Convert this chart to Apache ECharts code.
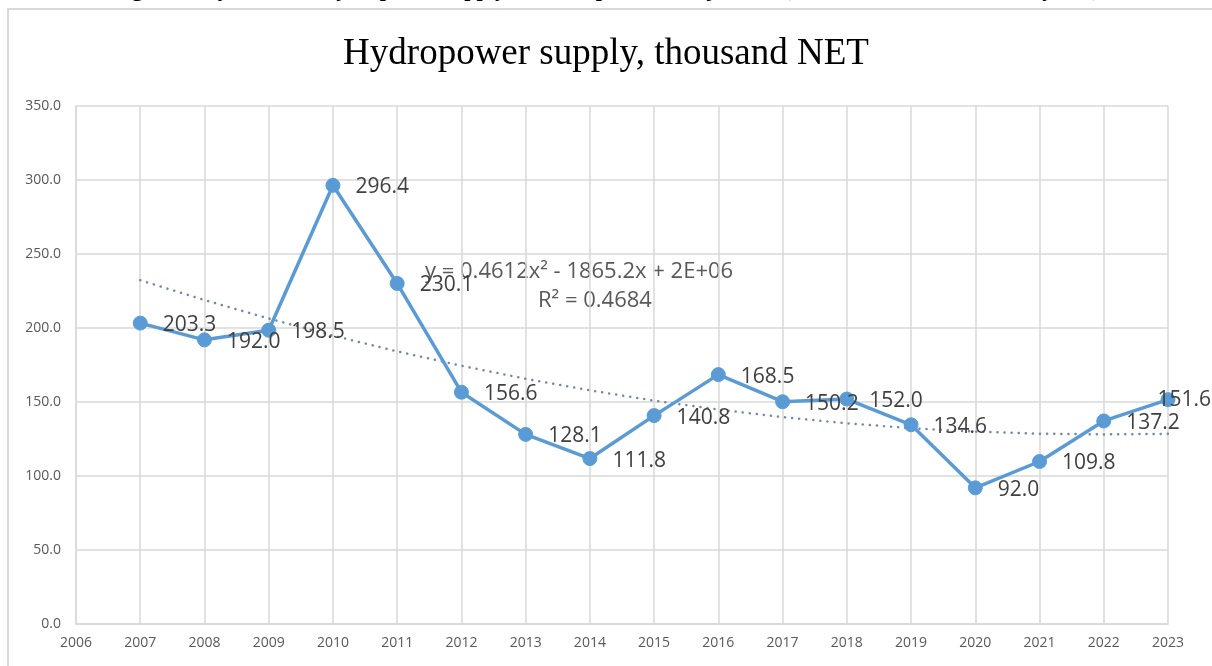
<!DOCTYPE html>
<html>
<head>
<meta charset="utf-8">
<script src="https://cdn.jsdelivr.net/npm/echarts@6/dist/echarts.min.js"></script>
<style>
html,body{margin:0;padding:0;background:#fff;overflow:hidden;}
#cap{position:absolute;left:0;top:-22px;width:1212px;text-align:center;font-family:"Liberation Serif",serif;font-weight:bold;font-size:22px;line-height:22px;color:#000;white-space:nowrap;}
#frame{position:absolute;left:7px;top:8px;width:1220px;height:700px;border:2px solid #d9d9d9;box-sizing:border-box;}
#chart{position:absolute;left:0;top:0;width:1212px;height:666px;}
</style>
</head>
<body>
<div id="cap">Figure 5. Dynamics of hydropower supply in the Republic of Tajikistan (thousand NET, 2007–2023 years)</div>
<div id="frame"></div>
<div id="chart"></div>
<script>
const years = [2007,2008,2009,2010,2011,2012,2013,2014,2015,2016,2017,2018,2019,2020,2021,2022,2023];
const supply = [203.3,192.0,198.5,296.4,230.1,156.6,128.1,111.8,140.8,168.5,150.2,152.0,134.6,92.0,109.8,137.2,151.6];
const trend = [232.3,218.9,206.4,194.9,184.2,174.5,165.7,157.9,150.9,144.9,139.8,135.6,132.3,130.0,128.6,128.1,128.5];
const titleText = "Hydropower supply, thousand NET";
const eqText = "y = 0.4612x\u00b2 - 1865.2x + 2E+06";
const r2Text = "R\u00b2 = 0.4684";

const chart = echarts.init(document.getElementById('chart'), null, {renderer:'canvas'});
const font = '"Open Sans", sans-serif';
const lastIdx = years.length - 1;
chart.setOption({
  animation:false,
  backgroundColor:'transparent',
  title:{text:titleText,left:'center',top:31,textStyle:{fontFamily:'"Liberation Serif", serif',fontWeight:'normal',fontSize:37,color:'#000'}},
  grid:{left:76,right:44,top:106,bottom:42},
  xAxis:{type:'value',min:2006,max:2023,interval:1,
    axisLine:{show:true,lineStyle:{color:'#d9d9d9',width:1.5}},
    axisTick:{show:false},
    splitLine:{show:true,lineStyle:{color:'#d9d9d9',width:1.5}},
    axisLabel:{formatter:v=>String(v),color:'#595959',fontFamily:font,fontSize:14,margin:12}},
  yAxis:{type:'value',min:0,max:350,interval:50,
    axisLine:{show:true,lineStyle:{color:'#d9d9d9',width:1.5}},
    axisTick:{show:false},
    splitLine:{show:true,lineStyle:{color:'#d9d9d9',width:1.5}},
    axisLabel:{formatter:v=>v.toFixed(1),color:'#595959',fontFamily:font,fontSize:14,margin:15}},
  series:[
    {type:'line',data:years.map((y,i)=>[y,trend[i]]),showSymbol:false,symbol:'none',
     lineStyle:{color:'#7388a6',width:2.5,type:[0.1,7],cap:'round'},z:1,silent:true},
    {type:'line',
     data:years.map((y,i)=>i===lastIdx?{value:[y,supply[i]],label:{offset:[-33,0]}}:[y,supply[i]]),
     symbol:'circle',symbolSize:14,
     itemStyle:{color:'#5b9bd5',borderColor:'#5b9bd5'},lineStyle:{color:'#5b9bd5',width:3.5},z:2,
     label:{show:true,position:'right',distance:15,offset:[0,2],fontFamily:font,fontSize:21,color:'#404040',formatter:p=>p.value[1].toFixed(1)}}
  ],
  graphic:[
    {type:'text',left:425,top:261,style:{text:eqText,fontFamily:font,fontSize:22,fill:'#595959'}},
    {type:'text',left:538,top:290,style:{text:r2Text,fontFamily:font,fontSize:22,fill:'#595959'}}
  ]
});
</script>
</body>
</html>
